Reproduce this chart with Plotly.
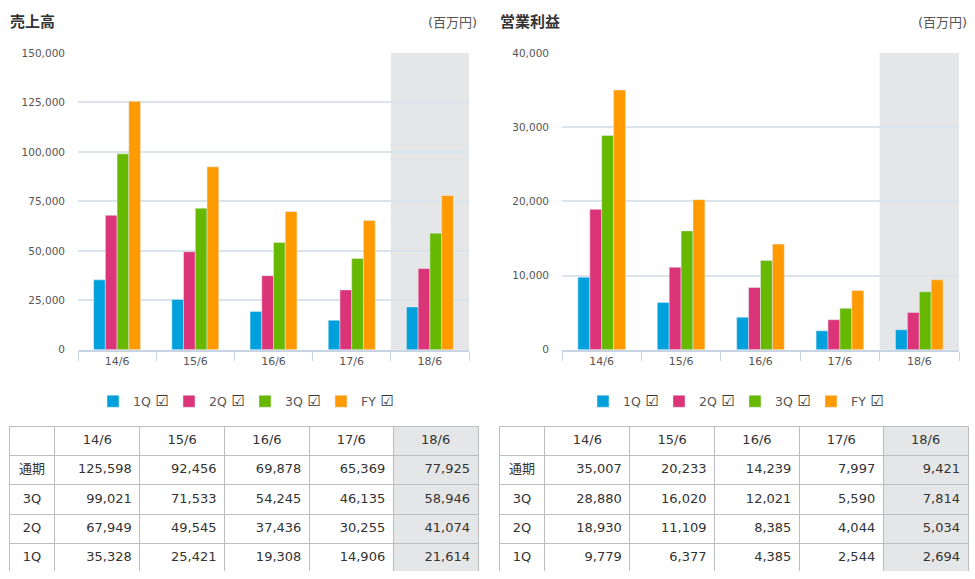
import plotly.graph_objects as go

W, H = 975, 579

years = ["14/6", "15/6", "16/6", "17/6", "18/6"]
series_names = ["1Q", "2Q", "3Q", "FY"]
row_labels = ["通期", "3Q", "2Q", "1Q"]

sales_1q = [35328, 25421, 19308, 14906, 21614]
sales_2q = [67949, 49545, 37436, 30255, 41074]
sales_3q = [99021, 71533, 54245, 46135, 58946]
sales_fy = [125598, 92456, 69878, 65369, 77925]

op_1q = [9779, 6377, 4385, 2544, 2694]
op_2q = [18930, 11109, 8385, 4044, 5034]
op_3q = [28880, 16020, 12021, 5590, 7814]
op_fy = [35007, 20233, 14239, 7997, 9421]

sales_ticks = [0, 25000, 50000, 75000, 100000, 125000, 150000]
op_ticks = [0, 10000, 20000, 30000, 40000]

colors = ["#00a0dc", "#dc3478", "#66b800", "#ff9a00"]
shade = "#e5e6e8"
grid = "#dbe3ec"
axis_col = "#c6d4e3"
txt = "#333333"
tick_txt = "#555555"
FONT = "DejaVu Sans, Noto Sans CJK JP"


def px(x):
    return x / W


def py(y):
    return 1 - y / H


fig = go.Figure()

sales = [sales_1q, sales_2q, sales_3q, sales_fy]
ops = [op_1q, op_2q, op_3q, op_fy]

CHECK = '<span style="font-size:15px;color:#333"> \u2611</span>'

for name, vals, c in zip(series_names, sales, colors):
    fig.add_trace(go.Bar(x=years, y=vals, name=name + CHECK, marker_color=c,
                         xaxis="x", yaxis="y", legend="legend"))
for name, vals, c in zip(series_names, ops, colors):
    fig.add_trace(go.Bar(x=years, y=vals, name=name + CHECK, marker_color=c,
                         xaxis="x2", yaxis="y2", legend="legend2"))


def fmt(v):
    return f"{v:,}"


def add_table(domain_x, data_rows):
    cols = [row_labels]
    for j in range(len(years)):
        cols.append([fmt(r[j]) for r in data_rows])
    fig.add_trace(go.Table(
        domain=dict(x=domain_x, y=[py(578), py(429)]),
        columnwidth=[46, 85, 85, 85, 84, 85],
        header=dict(values=[""] + years, height=29.4,
                    fill_color=["white"] * 5 + [shade],
                    line=dict(color="#bdbdbd", width=1),
                    align="center",
                    font=dict(family=FONT, size=13, color=txt)),
        cells=dict(values=cols, height=29.4,
                   fill_color=[["white"] * 4] * 5 + [[shade] * 4],
                   line=dict(color="#bdbdbd", width=1),
                   align=["center", "right", "right", "right", "right", "right"],
                   font=dict(family=FONT, size=13, color=txt)),
    ))


add_table([px(9), px(478)], [sales_fy, sales_3q, sales_2q, sales_1q])
add_table([px(499), px(968)], [op_fy, op_3q, op_2q, op_1q])

ydom = [py(351), py(48)]
xaxis_common = dict(type="category", showline=True, linecolor=axis_col, linewidth=2,
                    ticks="outside", tickson="boundaries", ticklen=9, tickcolor=axis_col,
                    tickwidth=1, showgrid=False,
                    tickfont=dict(family=FONT, size=11, color=tick_txt), fixedrange=True)
yaxis_common = dict(showline=False, showgrid=True, gridcolor=grid, gridwidth=2,
                    zeroline=False, tickformat=",", ticks="", ticklabelstandoff=12,
                    tickfont=dict(family=FONT, size=10.5, color=tick_txt), fixedrange=True)

legend_common = dict(orientation="h", yanchor="middle", y=py(404),
                     font=dict(family=FONT, size=12.5, color=tick_txt), itemclick=False,
                     itemdoubleclick=False, traceorder="normal",
                     entrywidth=31, entrywidthmode="pixels")

fig.update_layout(
    width=W, height=H,
    margin=dict(l=0, r=0, t=0, b=0),
    paper_bgcolor="white", plot_bgcolor="white",
    font=dict(family=FONT, color=txt),
    barmode="group", bargap=0.4, bargroupgap=0,
    xaxis=dict(domain=[px(78), px(469)], anchor="y", **xaxis_common),
    yaxis=dict(domain=ydom, anchor="x", range=[0, 150000], tickvals=sales_ticks, **yaxis_common),
    xaxis2=dict(domain=[px(562), px(959)], anchor="y2", **xaxis_common),
    yaxis2=dict(domain=ydom, anchor="x2", range=[0, 40000], tickvals=op_ticks, **yaxis_common),
    legend=dict(x=px(245), xanchor="center", **legend_common),
    legend2=dict(x=px(735), xanchor="center", **legend_common),
    shapes=[
        dict(type="rect", xref="x", yref="y domain", x0=3.5, x1=4.5, y0=0, y1=1,
             fillcolor=shade, line_width=0, layer="below"),
        dict(type="rect", xref="x2", yref="y2 domain", x0=3.5, x1=4.5, y0=0, y1=1,
             fillcolor=shade, line_width=0, layer="below"),
    ],
    annotations=[
        dict(text="<b>売上高</b>", xref="paper", yref="paper", x=px(8), y=py(16),
             xanchor="left", yanchor="middle", showarrow=False,
             font=dict(family=FONT, size=15, color=txt)),
        dict(text="(百万円)", xref="paper", yref="paper", x=px(479), y=py(17),
             xanchor="right", yanchor="middle", showarrow=False,
             font=dict(family=FONT, size=13, color=tick_txt)),
        dict(text="<b>営業利益</b>", xref="paper", yref="paper", x=px(498), y=py(16),
             xanchor="left", yanchor="middle", showarrow=False,
             font=dict(family=FONT, size=15, color=txt)),
        dict(text="(百万円)", xref="paper", yref="paper", x=px(969), y=py(17),
             xanchor="right", yanchor="middle", showarrow=False,
             font=dict(family=FONT, size=13, color=tick_txt)),
    ],
)

fig.write_html("out.html", config=dict(displayModeBar=False))
